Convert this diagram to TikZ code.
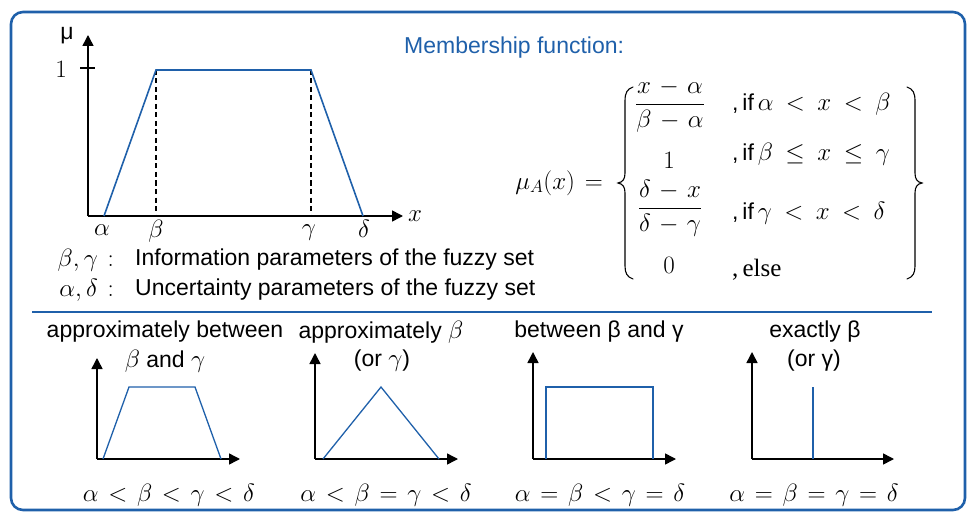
\documentclass[tikz,border=0pt]{standalone}
\usepackage{fix-cm}
\usepackage{fontspec}
\setmainfont{Liberation Sans}
\newfontfamily\serifrm{Liberation Serif}
\usetikzlibrary{arrows.meta}
\definecolor{fblue}{RGB}{31,96,170}
\tikzset{
  txt/.style={font=\fontsize{23}{27}\selectfont, inner sep=0pt},
  mtxt/.style={font=\fontsize{25}{30}\selectfont, inner sep=0pt},
  axis/.style={line width=1.5pt, -{Triangle[length=11pt,width=11pt]}},
  mf/.style={fblue, line width=1.6pt, line join=miter},
  smf/.style={fblue, line width=1.3pt, line join=miter},
  brace/.style={line width=1.1pt, line cap=round},
}
\newcommand{\mth}[1]{{\fontsize{25}{30}\selectfont$#1$}}
\newcommand{\wmth}[1]{{\fontsize{25}{30}\selectfont\thickmuskip=9mu$#1$}}
\medmuskip=6mu
\thickmuskip=7mu
\begin{document}
\begin{tikzpicture}[x=1pt,y=-1pt]
\useasboundingbox (0,0) rectangle (968,513);
% frame
\draw[fblue, line width=2.6pt, rounded corners=12pt] (11,12) rectangle (965,510);
\coordinate (sepL) at (32,312);
\coordinate (sepR) at (932,312);
\draw[fblue, line width=1.8pt] (sepL) -- (sepR);

% ---------- main graph ----------
\coordinate (o) at (88,216);
\coordinate (ytop) at (88,35);
\coordinate (xend) at (403,216);
\draw[axis] (o) -- (ytop);
\draw[axis] (o) -- (xend);
\coordinate (t1) at (80,68);
\coordinate (t2) at (95,68);
\draw[line width=1.3pt] (t1) -- (t2);
\node[txt] (mu) at (67,36) {μ};
\node[mtxt] (one) at (61,69) {$1$};
\coordinate (pa) at (104,216);
\coordinate (pb) at (156,70);
\coordinate (pc) at (311,70);
\coordinate (pd) at (363,216);
\coordinate (pbb) at (156,216);
\coordinate (pcb) at (311,216);
\draw[line width=1.1pt, dash pattern=on 5pt off 3.5pt] (pb) -- (pbb);
\draw[line width=1.1pt, dash pattern=on 5pt off 3.5pt] (pc) -- (pcb);
\draw[mf] (pa) -- (pb) -- (pc) -- (pd);
\node[mtxt] (la) at (102,230) {$\alpha$};
\node[mtxt] (lb) at (156,231) {$\beta$};
\node[mtxt] (lc) at (309,233) {$\gamma$};
\node[mtxt] (ld) at (364,229) {$\delta$};
\node[mtxt] (lx) at (415,216) {$x$};

\node[mtxt, anchor=east] (k1) at (114,260) {$\beta,\gamma:$};
\node[txt, anchor=west] (i1) at (135,260) {Information parameters of the fuzzy set};
\node[mtxt, anchor=east] (k2) at (114,290) {$\alpha,\delta:$};
\node[txt, anchor=west] (i2) at (135,290) {Uncertainty parameters of the fuzzy set};

% ---------- membership function ----------
\node[txt, anchor=west, text=fblue] (mtitle) at (404,48) {Membership function:};
\node[mtxt, anchor=east] (muA) at (603,183) {$\mu_A(x) =$};
% left brace
\draw[brace] (633,87) .. controls (627,89) and (625,93) .. (625,101) -- (625,173)
  .. controls (625,179) and (623,182) .. (618,183)
  .. controls (623,184) and (625,187) .. (625,193) -- (625,266)
  .. controls (625,273) and (627,277) .. (633,279);
% right brace
\draw[brace] (907,87) .. controls (913,89) and (915,93) .. (915,101) -- (915,173)
  .. controls (915,179) and (917,182) .. (922,183)
  .. controls (917,184) and (915,187) .. (915,193) -- (915,266)
  .. controls (915,273) and (913,277) .. (907,279);
\node[mtxt] (f1) at (670,106) {$\displaystyle\frac{x - \alpha}{\beta - \alpha}$};
\node[mtxt] (f2) at (669,160) {$1$};
\node[mtxt] (f3) at (670,208) {$\displaystyle\frac{\delta - x}{\delta - \gamma}$};
\node[mtxt] (f4) at (669,265) {$0$};
\node[txt, anchor=west] (c1) at (732,104) {,\,if\,\wmth{\alpha < x < \beta}};
\node[txt, anchor=west] (c2) at (732,154) {,\,if\,\wmth{\beta \le x \le \gamma}};
\node[txt, anchor=west] (c3) at (732,213) {,\,if\,\wmth{\gamma < x < \delta}};
\node[txt, anchor=west] (c4) at (732,270) {\serifrm\fontsize{25}{30}\selectfont ,\,else};

% ---------- panel 1 ----------
\node[txt] (h1a) at (165,332) {approximately between};
\node[txt] (h1b) at (165,361) {\mth{\beta} and \mth{\gamma}};
\coordinate (o1) at (97,459);
\coordinate (y1) at (97,358);
\coordinate (x1) at (240,459);
\draw[axis] (o1) -- (y1);
\draw[axis] (o1) -- (x1);
\coordinate (a1) at (103,459);
\coordinate (b1) at (129,387);
\coordinate (c1p) at (195,387);
\coordinate (d1) at (221,459);
\draw[smf] (a1) -- (b1) -- (c1p) -- (d1);
\node[mtxt] (r1) at (169,495) {$\alpha < \beta < \gamma < \delta$};

% ---------- panel 2 ----------
\node[txt] (h2a) at (381,332) {approximately \mth{\beta}};
\node[txt] (h2b) at (382,361) {(or \mth{\gamma})};
\coordinate (o2) at (315,459);
\coordinate (y2) at (315,353);
\coordinate (x2) at (458,459);
\draw[axis] (o2) -- (y2);
\draw[axis] (o2) -- (x2);
\coordinate (a2) at (323,459);
\coordinate (b2) at (381,387);
\coordinate (d2) at (439,459);
\draw[smf] (a2) -- (b2) -- (d2);
\node[mtxt] (r2) at (386,495) {$\alpha < \beta = \gamma < \delta$};

% ---------- panel 3 ----------
\node[txt] (h3a) at (599,332) {between β and γ};
\coordinate (o3) at (533,459);
\coordinate (y3) at (533,352);
\coordinate (x3) at (676,459);
\draw[axis] (o3) -- (y3);
\draw[axis] (o3) -- (x3);
\coordinate (a3) at (546,459);
\coordinate (b3) at (546,387);
\coordinate (c3p) at (653,387);
\coordinate (d3) at (653,459);
\draw[smf] (a3) -- (b3) -- (c3p) -- (d3);
\node[mtxt] (r3) at (600,495) {$\alpha = \beta < \gamma = \delta$};

% ---------- panel 4 ----------
\node[txt] (h4a) at (815,332) {exactly β};
\node[txt] (h4b) at (814,361) {(or γ)};
\coordinate (o4) at (752,459);
\coordinate (y4) at (752,352);
\coordinate (x4) at (894,459);
\draw[axis] (o4) -- (y4);
\draw[axis] (o4) -- (x4);
\coordinate (a4) at (813,459);
\coordinate (b4) at (813,387);
\draw[smf] (a4) -- (b4);
\node[mtxt] (r4) at (814,495) {$\alpha = \beta = \gamma = \delta$};
\end{tikzpicture}
\end{document}
